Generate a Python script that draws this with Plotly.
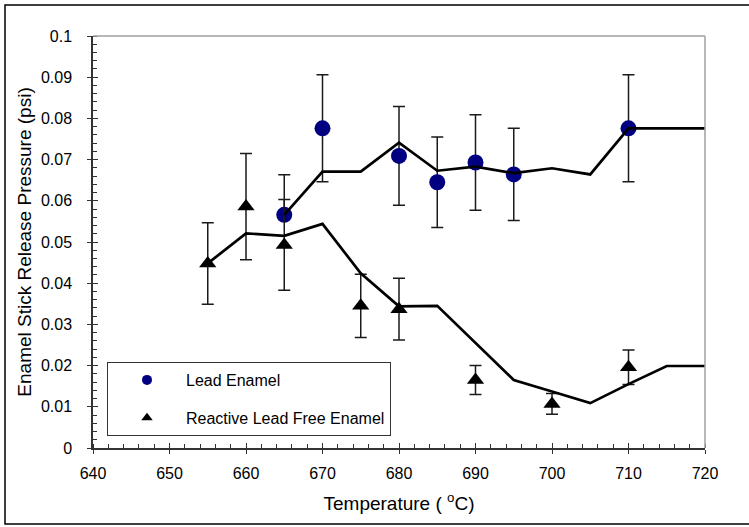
import plotly.graph_objects as go

# ---- data ----
lead_x = [665, 670, 680, 685, 690, 695, 710]
lead_y = [0.0566, 0.0776, 0.0709, 0.0645, 0.0693, 0.0664, 0.0776]
lead_err_plus = [0.0097, 0.0130, 0.0120, 0.0110, 0.0116, 0.0112, 0.0130]
lead_err_minus = [0.0, 0.0130, 0.0120, 0.0110, 0.0116, 0.0112, 0.0130]

free_x = [655, 660, 665, 675, 680, 690, 700, 710]
free_y = [0.0448, 0.0586, 0.0493, 0.0345, 0.0337, 0.0165, 0.0107, 0.0196]
free_err = [0.0099, 0.0129, 0.0110, 0.0077, 0.0075, 0.0035, 0.0025, 0.0042]

lead_fit_x = [665, 670, 675, 680, 685, 690, 695, 700, 705, 710, 715, 720]
lead_fit_y = [0.0566, 0.0671, 0.0671, 0.0741, 0.0673, 0.0683, 0.0667, 0.0679,
              0.0664, 0.0776, 0.0776, 0.0776]

free_fit_x = [655, 660, 665, 670, 675, 680, 685, 690, 695, 700, 705, 710, 715, 720]
free_fit_y = [0.0448, 0.0521, 0.0515, 0.0544, 0.0424, 0.0344, 0.0345, 0.0254,
              0.0165, 0.0137, 0.0109, 0.0155, 0.0199, 0.0199]

series_names = ["Lead Enamel", "Reactive Lead Free Enamel"]
x_title = "Temperature ( <sup>o</sup>C)"
y_title = "Enamel Stick Release Pressure (psi)"

FONT = "Liberation Sans, Arial, sans-serif"
NAVY = "#000080"
ERR = "#1a1a1a"

fig = go.Figure()

fig.add_trace(go.Scatter(
    x=lead_x, y=lead_y, mode="markers", showlegend=False,
    marker=dict(symbol="circle", size=16, color=NAVY),
    error_y=dict(type="data", symmetric=False, array=lead_err_plus,
                 arrayminus=lead_err_minus, color=ERR, thickness=1.5, width=6),
))
fig.add_trace(go.Scatter(
    x=free_x, y=free_y, mode="markers", showlegend=False,
    marker=dict(symbol="triangle-up", size=15, color="black"),
    error_y=dict(type="data", array=free_err, color=ERR, thickness=1.5, width=6),
))
fig.add_trace(go.Scatter(
    x=lead_fit_x, y=lead_fit_y, mode="lines", showlegend=False,
    line=dict(color="black", width=2.7),
))
fig.add_trace(go.Scatter(
    x=free_fit_x, y=free_fit_y, mode="lines", showlegend=False,
    line=dict(color="black", width=2.7),
))
# legend entries
fig.add_trace(go.Scatter(
    x=[None], y=[None], mode="markers", name=series_names[0], legendgroup="a",
    marker=dict(symbol="circle", size=10, color=NAVY),
))
fig.add_trace(go.Scatter(
    x=[None], y=[None], mode="markers", name=series_names[1], legendgroup="b",
    marker=dict(symbol="triangle-up", size=10, color="black"),
))

L, R, T, B = 93, 44, 36, 79
W, H = 749, 527
pw, ph = W - L - R, H - T - B

fig.update_layout(
    width=W, height=H,
    margin=dict(l=L, r=R, t=T, b=B, autoexpand=False),
    paper_bgcolor="white", plot_bgcolor="white",
    font=dict(family=FONT, size=16, color="black"),
    showlegend=True,
    legend=dict(
        x=(107 - L) / pw, y=(H - B - 362) / ph, xanchor="left", yanchor="top",
        bgcolor="white", bordercolor="#333", borderwidth=1,
        font=dict(family=FONT, size=16, color="black"),
        traceorder="grouped", tracegroupgap=14, itemwidth=68,
    ),
    xaxis=dict(
        range=[640, 720], dtick=10, tick0=640,
        showgrid=False, zeroline=False,
        showline=True, linecolor="#333", linewidth=1.5,
        ticks="outside", ticklen=4, tickwidth=1.2, tickcolor="#333",
        minor=dict(dtick=2, ticks="inside", ticklen=4, tickcolor="#333", tickwidth=1),
        ticklabelstandoff=6,
        tickfont=dict(size=16),
        title=dict(text=x_title, font=dict(size=19), standoff=16),
        automargin=False,
    ),
    yaxis=dict(
        range=[0, 0.1], dtick=0.01, tick0=0,
        showgrid=False, zeroline=False,
        showline=True, linecolor="#333", linewidth=1.5,
        ticks="outside", ticklen=4, tickwidth=1.2, tickcolor="#333",
        minor=dict(dtick=0.002, ticks="inside", ticklen=4, tickcolor="#333", tickwidth=1),
        ticklabelstandoff=12,
        tickfont=dict(size=16),
        title=dict(text=y_title, font=dict(size=19), standoff=4),
        automargin=False,
    ),
    xaxis2=dict(overlaying="x", matches="x", anchor="y", side="bottom",
                showticklabels=False, showgrid=False, zeroline=False, showline=False,
                ticks="inside", ticklen=5, tickwidth=1.2, tickcolor="#333", dtick=10,
                tick0=640),
    yaxis2=dict(overlaying="y", matches="y", anchor="x", side="left",
                showticklabels=False, showgrid=False, zeroline=False, showline=False,
                ticks="inside", ticklen=5, tickwidth=1.2, tickcolor="#333", dtick=0.01,
                tick0=0),
    shapes=[
        # grey frame top and right
        dict(type="line", xref="x domain", yref="y domain", x0=0, x1=1, y0=1, y1=1,
             line=dict(color="#a0a0a0", width=1.5)),
        dict(type="line", xref="x domain", yref="y domain", x0=1, x1=1, y0=0, y1=1,
             line=dict(color="#a0a0a0", width=1.5)),
        # outer chart border
        dict(type="rect", xref="paper", yref="paper",
             x0=(5 - L) / pw, x1=(760 - L) / pw,
             y0=(H - B - 524) / ph, y1=(H - B - 5) / ph,
             line=dict(color="black", width=1.5), layer="below"),
    ],
)

# dummy trace on overlay axes so their inside ticks render
fig.add_trace(go.Scatter(x=[None], y=[None], xaxis="x2", yaxis="y2",
                         showlegend=False, hoverinfo="skip"))

fig.write_html("out.html")
